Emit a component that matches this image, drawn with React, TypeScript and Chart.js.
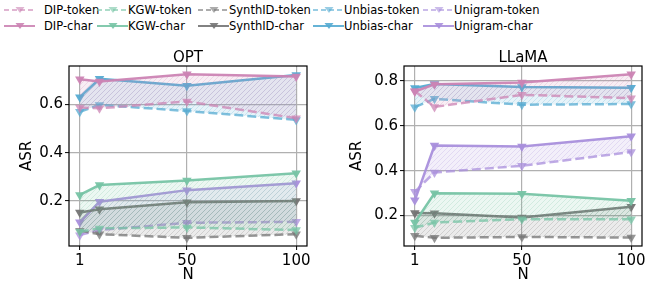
import React, { useEffect, useRef } from 'react';
import { Chart, registerables } from 'chart.js';
Chart.register(...registerables);

const nValues = [1, 10, 50, 100];
const methodNames = ['DIP', 'KGW', 'SynthID', 'Unbias', 'Unigram'];
const methodColors = ['#cc84b4', '#77c4a5', '#747474', '#55abd2', '#a98fdc'];
const xTickValues = [1, 50, 100];
const optYTicks = [0.2, 0.4, 0.6];
const llamaYTicks = [0.2, 0.4, 0.6, 0.8];

const optDipToken = [0.586, 0.583, 0.611, 0.542];
const optDipChar = [0.703, 0.694, 0.724, 0.714];
const optKgwToken = [0.073, 0.087, 0.091, 0.08];
const optKgwChar = [0.225, 0.266, 0.285, 0.315];
const optSynthToken = [0.077, 0.063, 0.048, 0.063];
const optSynthChar = [0.153, 0.166, 0.195, 0.2];
const optUnbiasToken = [0.569, 0.597, 0.572, 0.535];
const optUnbiasChar = [0.629, 0.705, 0.676, 0.721];
const optUnigramToken = [0.059, 0.08, 0.11, 0.114];
const optUnigramChar = [0.112, 0.197, 0.245, 0.273];

const llamaDipToken = [0.755, 0.684, 0.738, 0.723];
const llamaDipChar = [0.753, 0.785, 0.793, 0.83];
const llamaKgwToken = [0.146, 0.169, 0.184, 0.184];
const llamaKgwChar = [0.169, 0.299, 0.297, 0.266];
const llamaSynthToken = [0.11, 0.101, 0.105, 0.102];
const llamaSynthChar = [0.212, 0.211, 0.192, 0.239];
const llamaUnbiasToken = [0.683, 0.72, 0.694, 0.697];
const llamaUnbiasChar = [0.768, 0.786, 0.773, 0.77];
const llamaUnigramToken = [0.306, 0.392, 0.422, 0.483];
const llamaUnigramChar = [0.268, 0.512, 0.508, 0.554];

const optSeries = [
  [optDipToken, optDipChar],
  [optKgwToken, optKgwChar],
  [optSynthToken, optSynthChar],
  [optUnbiasToken, optUnbiasChar],
  [optUnigramToken, optUnigramChar],
];
const llamaSeries = [
  [llamaDipToken, llamaDipChar],
  [llamaKgwToken, llamaKgwChar],
  [llamaSynthToken, llamaSynthChar],
  [llamaUnbiasToken, llamaUnbiasChar],
  [llamaUnigramToken, llamaUnigramChar],
];

const FONT = '"DejaVu Sans", "Liberation Sans", sans-serif';

function rgba(hex: string, a: number) {
  const n = parseInt(hex.slice(1), 16);
  return `rgba(${(n >> 16) & 255},${(n >> 8) & 255},${n & 255},${a})`;
}

function makeHatch(hex: string) {
  const s = 5;
  const c = document.createElement('canvas');
  c.width = s;
  c.height = s;
  const g = c.getContext('2d')!;
  g.fillStyle = rgba(hex, 0.14);
  g.fillRect(0, 0, s, s);
  g.strokeStyle = rgba(hex, 0.22);
  g.lineWidth = 1;
  g.beginPath();
  g.moveTo(-1, s + 1);
  g.lineTo(s + 1, -1);
  g.moveTo(-1, 1);
  g.lineTo(1, -1);
  g.moveTo(s - 1, s + 1);
  g.lineTo(s + 1, s - 1);
  g.stroke();
  return g.createPattern(c, 'repeat')!;
}

const decorPlugin = {
  id: 'decor',
  afterDraw(chart: any, _args: any, opts: any) {
    const { ctx, chartArea: a } = chart;
    ctx.save();
    ctx.strokeStyle = '#000';
    ctx.lineWidth = 1.2;
    ctx.strokeRect(a.left, a.top, a.right - a.left, a.bottom - a.top);
    ctx.fillStyle = '#000';
    ctx.font = `15px ${FONT}`;
    ctx.textAlign = 'center';
    ctx.textBaseline = 'middle';
    const cx = (a.left + a.right) / 2;
    ctx.fillText(opts.title, cx, opts.titleY);
    ctx.fillText('N', cx, opts.xLabelY);
    ctx.translate(opts.yLabelX, (a.top + a.bottom) / 2);
    ctx.rotate(-Math.PI / 2);
    ctx.fillText('ASR', 0, 0);
    ctx.restore();
  },
};

type PanelProps = {
  title: string;
  series: number[][][];
  yTicks: number[];
  left: number;
  width: number;
  axisWidth: number;
  rightPad: number;
};

function Panel({ title, series, yTicks, left, width, axisWidth, rightPad }: PanelProps) {
  const ref = useRef<HTMLCanvasElement | null>(null);
  useEffect(() => {
    const all = series.flat(2);
    const dmin = Math.min(...all);
    const dmax = Math.max(...all);
    const margin = (dmax - dmin) * 0.05;
    const xmargin = (nValues[nValues.length - 1] - nValues[0]) * 0.05;
    const datasets: any[] = [];
    series.forEach((pair, m) => {
      const col = methodColors[m];
      datasets.push({
        label: methodNames[m] + '-token',
        data: nValues.map((x, i) => ({ x, y: pair[0][i] })),
        borderColor: rgba(col, 0.75),
        backgroundColor: rgba(col, 0.75),
        pointBackgroundColor: rgba(col, 0.75),
        pointBorderColor: rgba(col, 0.75),
        borderWidth: 2.5,
        borderDash: [9, 4],
        pointStyle: 'triangle',
        rotation: 180,
        pointRadius: 5.5,
        pointBorderWidth: 0,
        fill: false,
        tension: 0,
      });
      datasets.push({
        label: methodNames[m] + '-char',
        data: nValues.map((x, i) => ({ x, y: pair[1][i] })),
        borderColor: rgba(col, 0.95),
        backgroundColor: makeHatch(col),
        pointBackgroundColor: rgba(col, 0.95),
        pointBorderColor: rgba(col, 0.95),
        borderWidth: 2.5,
        pointStyle: 'triangle',
        rotation: 180,
        pointRadius: 5.5,
        pointBorderWidth: 0,
        fill: '-1',
        tension: 0,
      });
    });
    const chart = new Chart(ref.current!, {
      type: 'line',
      data: { datasets },
      plugins: [decorPlugin],
      options: {
        animation: false,
        responsive: false,
        devicePixelRatio: 1,
        layout: { autoPadding: false, padding: { top: 26, right: rightPad, left: 0, bottom: 0 } },
        plugins: {
          legend: { display: false },
          tooltip: { enabled: false },
          decor: { title, titleY: 18, xLabelY: 235, yLabelX: 27 },
        } as any,
        scales: {
          x: {
            type: 'linear',
            min: nValues[0] - xmargin,
            max: nValues[nValues.length - 1] + xmargin,
            afterBuildTicks: (s: any) => {
              s.ticks = xTickValues.map((v) => ({ value: v }));
            },
            afterFit: (s: any) => {
              s.height = 41;
            },
            ticks: { font: { family: FONT, size: 15 }, color: '#000', padding: 2, maxRotation: 0, callback: (v: any) => String(v) },
            grid: { color: '#b0b0b0', lineWidth: 1.2, tickColor: '#000', tickLength: 4, tickWidth: 1 },
            border: { display: false },
          },
          y: {
            type: 'linear',
            min: dmin - margin,
            max: dmax + margin,
            afterBuildTicks: (s: any) => {
              s.ticks = yTicks.map((v) => ({ value: v }));
            },
            afterFit: (s: any) => {
              s.width = axisWidth;
            },
            ticks: { font: { family: FONT, size: 15 }, color: '#000', padding: 2, callback: (v: any) => Number(v).toFixed(1) },
            grid: { color: '#b0b0b0', lineWidth: 1.2, tickColor: '#000', tickLength: 4, tickWidth: 1 },
            border: { display: false },
          },
        },
      },
    });
    return () => chart.destroy();
  }, []);
  return (
    <canvas
      ref={ref}
      width={width}
      height={247}
      style={{ position: 'absolute', left, top: 40, width, height: 247 }}
    />
  );
}

function LegendEntry({ m, token, row }: { m: number; token: boolean; row: number }) {
  const handleX = [4, 97, 198, 313, 423][m];
  const textX = [44, 128, 229, 344, 454][m];
  const cy = row === 0 ? 10 : 26;
  const col = methodColors[m];
  return (
    <>
      <svg
        width={32}
        height={12}
        style={{ position: 'absolute', left: handleX, top: cy - 6 }}
      >
        <line
          x1={0}
          y1={6}
          x2={31}
          y2={6}
          stroke={col}
          strokeOpacity={token ? 0.6 : 0.9}
          strokeWidth={2}
          strokeDasharray={token ? '5 3' : undefined}
        />
        <polygon points="11.5,3 20.5,3 16,9" fill={col} fillOpacity={token ? 0.6 : 0.9} />
      </svg>
      <span
        style={{
          position: 'absolute',
          left: textX,
          top: cy - 7,
          fontFamily: FONT,
          fontSize: 11.5,
          lineHeight: '14px',
          color: '#000',
          whiteSpace: 'nowrap',
        }}
      >
        {methodNames[m] + (token ? '-token' : '-char')}
      </span>
    </>
  );
}

export default function App() {
  return (
    <div style={{ position: 'absolute', left: 0, top: 0, width: 665, height: 287, background: '#fff' }}>
      {methodNames.map((_, m) => (
        <React.Fragment key={m}>
          <LegendEntry m={m} token={true} row={0} />
          <LegendEntry m={m} token={false} row={1} />
        </React.Fragment>
      ))}
      <Panel title="OPT" series={optSeries} yTicks={optYTicks} left={0} width={330} axisWidth={69} rightPad={23} />
      <Panel title="LLaMA" series={llamaSeries} yTicks={llamaYTicks} left={330} width={335} axisWidth={74} rightPad={23} />
    </div>
  );
}
